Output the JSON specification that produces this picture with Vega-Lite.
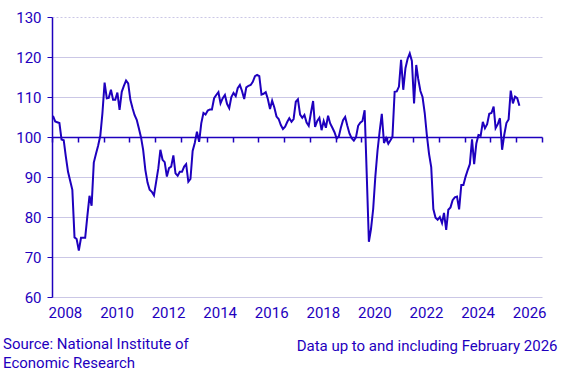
{
  "$schema": "https://vega.github.io/schema/vega-lite/v6.json",
  "width": 490,
  "height": 280,
  "autosize": "none",
  "padding": {"left": 52, "top": 17, "right": 26, "bottom": 82},
  "background": "white",
  "data": {"values": [
    {"date":"2008-01-15","value":105.3},{"date":"2008-02-15","value":103.9},{"date":"2008-03-15","value":103.7},{"date":"2008-04-15","value":103.5},{"date":"2008-05-15","value":99.4},{"date":"2008-06-15","value":99.2},{"date":"2008-07-15","value":95.1},{"date":"2008-08-15","value":91.3},{"date":"2008-09-15","value":89.0},{"date":"2008-10-15","value":86.8},{"date":"2008-11-15","value":74.9},{"date":"2008-12-15","value":74.5},
    {"date":"2009-01-15","value":71.6},{"date":"2009-02-15","value":74.8},{"date":"2009-03-15","value":74.8},{"date":"2009-04-15","value":74.8},{"date":"2009-05-15","value":80.1},{"date":"2009-06-15","value":85.3},{"date":"2009-07-15","value":82.8},{"date":"2009-08-15","value":93.6},{"date":"2009-09-15","value":95.8},{"date":"2009-10-15","value":97.8},{"date":"2009-11-15","value":100.3},{"date":"2009-12-15","value":105.9},
    {"date":"2010-01-15","value":113.6},{"date":"2010-02-15","value":109.7},{"date":"2010-03-15","value":109.8},{"date":"2010-04-15","value":111.8},{"date":"2010-05-15","value":109.3},{"date":"2010-06-15","value":109.3},{"date":"2010-07-15","value":111.1},{"date":"2010-08-15","value":106.8},{"date":"2010-09-15","value":111.3},{"date":"2010-10-15","value":112.8},{"date":"2010-11-15","value":114.1},{"date":"2010-12-15","value":113.4},
    {"date":"2011-01-15","value":109.3},{"date":"2011-02-15","value":107.2},{"date":"2011-03-15","value":105.5},{"date":"2011-04-15","value":104.3},{"date":"2011-05-15","value":102.2},{"date":"2011-06-15","value":99.9},{"date":"2011-07-15","value":96.8},{"date":"2011-08-15","value":91.8},{"date":"2011-09-15","value":88.6},{"date":"2011-10-15","value":86.8},{"date":"2011-11-15","value":86.3},{"date":"2011-12-15","value":85.4},
    {"date":"2012-01-15","value":88.8},{"date":"2012-02-15","value":92.2},{"date":"2012-03-15","value":96.8},{"date":"2012-04-15","value":94.3},{"date":"2012-05-15","value":93.7},{"date":"2012-06-15","value":90.1},{"date":"2012-07-15","value":92.2},{"date":"2012-08-15","value":92.6},{"date":"2012-09-15","value":95.4},{"date":"2012-10-15","value":90.9},{"date":"2012-11-15","value":90.3},{"date":"2012-12-15","value":91.3},
    {"date":"2013-01-15","value":91.3},{"date":"2013-02-15","value":92.6},{"date":"2013-03-15","value":93.2},{"date":"2013-04-15","value":88.8},{"date":"2013-05-15","value":89.5},{"date":"2013-06-15","value":96.5},{"date":"2013-07-15","value":98.5},{"date":"2013-08-15","value":101.3},{"date":"2013-09-15","value":98.8},{"date":"2013-10-15","value":103.4},{"date":"2013-11-15","value":106.0},{"date":"2013-12-15","value":105.6},
    {"date":"2014-01-15","value":106.6},{"date":"2014-02-15","value":106.9},{"date":"2014-03-15","value":106.9},{"date":"2014-04-15","value":109.7},{"date":"2014-05-15","value":110.5},{"date":"2014-06-15","value":111.2},{"date":"2014-07-15","value":108.4},{"date":"2014-08-15","value":109.7},{"date":"2014-09-15","value":110.5},{"date":"2014-10-15","value":108.3},{"date":"2014-11-15","value":107.2},{"date":"2014-12-15","value":110.0},
    {"date":"2015-01-15","value":111.0},{"date":"2015-02-15","value":110.2},{"date":"2015-03-15","value":112.2},{"date":"2015-04-15","value":113.0},{"date":"2015-05-15","value":111.5},{"date":"2015-06-15","value":109.5},{"date":"2015-07-15","value":112.4},{"date":"2015-08-15","value":112.8},{"date":"2015-09-15","value":113.0},{"date":"2015-10-15","value":113.8},{"date":"2015-11-15","value":115.2},{"date":"2015-12-15","value":115.5},
    {"date":"2016-01-15","value":115.2},{"date":"2016-02-15","value":110.6},{"date":"2016-03-15","value":110.8},{"date":"2016-04-15","value":111.2},{"date":"2016-05-15","value":109.5},{"date":"2016-06-15","value":107.0},{"date":"2016-07-15","value":109.1},{"date":"2016-08-15","value":107.4},{"date":"2016-09-15","value":105.1},{"date":"2016-10-15","value":104.5},{"date":"2016-11-15","value":103.0},{"date":"2016-12-15","value":102.0},
    {"date":"2017-01-15","value":102.6},{"date":"2017-02-15","value":103.8},{"date":"2017-03-15","value":104.7},{"date":"2017-04-15","value":103.8},{"date":"2017-05-15","value":104.5},{"date":"2017-06-15","value":108.8},{"date":"2017-07-15","value":109.4},{"date":"2017-08-15","value":105.6},{"date":"2017-09-15","value":104.8},{"date":"2017-10-15","value":105.5},{"date":"2017-11-15","value":103.6},{"date":"2017-12-15","value":102.8},
    {"date":"2018-01-15","value":106.0},{"date":"2018-02-15","value":109.0},{"date":"2018-03-15","value":102.5},{"date":"2018-04-15","value":104.0},{"date":"2018-05-15","value":104.8},{"date":"2018-06-15","value":101.7},{"date":"2018-07-15","value":104.0},{"date":"2018-08-15","value":102.3},{"date":"2018-09-15","value":105.3},{"date":"2018-10-15","value":103.4},{"date":"2018-11-15","value":102.3},{"date":"2018-12-15","value":101.2},
    {"date":"2019-01-15","value":99.6},{"date":"2019-02-15","value":100.2},{"date":"2019-03-15","value":102.3},{"date":"2019-04-15","value":104.2},{"date":"2019-05-15","value":105.0},{"date":"2019-06-15","value":102.8},{"date":"2019-07-15","value":100.9},{"date":"2019-08-15","value":99.7},{"date":"2019-09-15","value":99.1},{"date":"2019-10-15","value":99.9},{"date":"2019-11-15","value":102.8},{"date":"2019-12-15","value":103.6},
    {"date":"2020-01-15","value":104.0},{"date":"2020-02-15","value":106.7},{"date":"2020-03-15","value":91.0},{"date":"2020-04-15","value":73.8},{"date":"2020-05-15","value":77.0},{"date":"2020-06-15","value":82.0},{"date":"2020-07-15","value":90.0},{"date":"2020-08-15","value":96.5},{"date":"2020-09-15","value":101.5},{"date":"2020-10-15","value":105.8},{"date":"2020-11-15","value":98.5},{"date":"2020-12-15","value":99.7},
    {"date":"2021-01-15","value":98.3},{"date":"2021-02-15","value":99.2},{"date":"2021-03-15","value":100.1},{"date":"2021-04-15","value":111.3},{"date":"2021-05-15","value":111.4},{"date":"2021-06-15","value":112.6},{"date":"2021-07-15","value":119.3},{"date":"2021-08-15","value":111.8},{"date":"2021-09-15","value":117.2},{"date":"2021-10-15","value":119.5},{"date":"2021-11-15","value":120.9},{"date":"2021-12-15","value":119.0},
    {"date":"2022-01-15","value":108.4},{"date":"2022-02-15","value":118.0},{"date":"2022-03-15","value":114.5},{"date":"2022-04-15","value":111.5},{"date":"2022-05-15","value":110.0},{"date":"2022-06-15","value":106.0},{"date":"2022-07-15","value":100.5},{"date":"2022-08-15","value":95.8},{"date":"2022-09-15","value":92.5},{"date":"2022-10-15","value":82.0},{"date":"2022-11-15","value":79.8},{"date":"2022-12-15","value":79.3},
    {"date":"2023-01-15","value":80.0},{"date":"2023-02-15","value":78.5},{"date":"2023-03-15","value":81.0},{"date":"2023-04-15","value":76.8},{"date":"2023-05-15","value":81.8},{"date":"2023-06-15","value":82.4},{"date":"2023-07-15","value":84.2},{"date":"2023-08-15","value":84.9},{"date":"2023-09-15","value":85.1},{"date":"2023-10-15","value":81.9},{"date":"2023-11-15","value":88.0},{"date":"2023-12-15","value":88.0},
    {"date":"2024-01-15","value":90.1},{"date":"2024-02-15","value":91.8},{"date":"2024-03-15","value":93.2},{"date":"2024-04-15","value":99.4},{"date":"2024-05-15","value":93.2},{"date":"2024-06-15","value":98.4},{"date":"2024-07-15","value":100.5},{"date":"2024-08-15","value":100.3},{"date":"2024-09-15","value":103.8},{"date":"2024-10-15","value":102.2},{"date":"2024-11-15","value":103.2},{"date":"2024-12-15","value":105.8},
    {"date":"2025-01-15","value":106.0},{"date":"2025-02-15","value":107.6},{"date":"2025-03-15","value":102.2},{"date":"2025-04-15","value":103.2},{"date":"2025-05-15","value":104.7},{"date":"2025-06-15","value":96.8},{"date":"2025-07-15","value":100.5},{"date":"2025-08-15","value":103.5},{"date":"2025-09-15","value":104.4},{"date":"2025-10-15","value":111.6},{"date":"2025-11-15","value":108.4},{"date":"2025-12-15","value":110.1},
    {"date":"2026-01-15","value":109.7},{"date":"2026-02-15","value":107.8}
  ]},
  "title": {
    "text": ["Source: National Institute of", "Economic Research"],
    "orient": "bottom",
    "anchor": "start",
    "frame": "group",
    "dx": -49,
    "offset": -16,
    "fontSize": 15,
    "fontWeight": "normal",
    "font": "Roboto",
    "color": "#1e00be",
    "lineHeight": 18.5
  },
  "encoding": {
    "y": {
      "field": "value",
      "type": "quantitative",
      "scale": {"domain": [60, 130], "nice": false, "zero": false},
      "axis": {
        "values": [60, 70, 80, 90, 100, 110, 120, 130],
        "title": null,
        "grid": true,
        "gridColor": "#cbc7e6",
        "gridWidth": 1,
        "gridDash": {"condition": {"test": "datum.value >= 130", "value": [2, 2]}, "value": []},
        "domain": true,
        "domainColor": "#1e00be",
        "domainWidth": 1.5,
        "ticks": true,
        "tickColor": "#1e00be",
        "tickSize": 5,
        "tickWidth": 1,
        "labelPadding": 6,
        "labelFont": "Roboto",
        "labelFontSize": 15,
        "labelColor": "#1e00be"
      }
    }
  },
  "layer": [
    {
      "mark": {"type": "line", "opacity": 0},
      "encoding": {
        "x": {
          "field": "date",
          "type": "temporal",
          "scale": {"type": "utc", "domain": [{"year": 2008, "month": 1, "date": 1, "utc": true}, {"year": 2027, "month": 1, "date": 1, "utc": true}]},
          "axis": {
            "orient": "bottom",
            "offset": -160,
            "labels": false,
            "title": null,
            "grid": false,
            "domain": true,
            "domainColor": "#1e00be",
            "domainWidth": 1.5,
            "ticks": true,
            "tickColor": "#1e00be",
            "tickWidth": 1.5,
            "tickSize": 5,
            "tickCount": {"interval": "year", "step": 1}
          }
        }
      }
    },
    {
      "mark": {"type": "line", "color": "#1e00be", "strokeWidth": 2},
      "encoding": {
        "x": {
          "field": "date",
          "type": "temporal",
          "scale": {"type": "utc", "domain": [{"year": 2008, "month": 1, "date": 1, "utc": true}, {"year": 2027, "month": 1, "date": 1, "utc": true}]},
          "axis": {
            "orient": "bottom",
            "grid": false,
            "domain": false,
            "ticks": false,
            "tickSize": 0,
            "labelPadding": 8,
            "labelOffset": 12.9,
            "labelOverlap": false,
            "labelFlush": false,
            "labelBound": false,
            "tickCount": {"interval": "year", "step": 1},
            "labelExpr": "utcyear(datum.value) % 2 == 0 ? utcFormat(datum.value, '%Y') : ''",
            "labelFont": "Roboto",
            "labelFontSize": 15,
            "labelColor": "#1e00be",
            "title": "Data up to and including February 2026",
            "titleX": 505,
            "titleY": 53,
            "titleAlign": "right",
            "titleBaseline": "alphabetic",
            "titleFont": "Roboto",
            "titleFontSize": 15,
            "titleFontWeight": "normal",
            "titleColor": "#1e00be"
          }
        }
      }
    }
  ],
  "resolve": {"axis": {"x": "independent"}},
  "config": {"view": {"stroke": null}, "font": "Roboto"}
}
